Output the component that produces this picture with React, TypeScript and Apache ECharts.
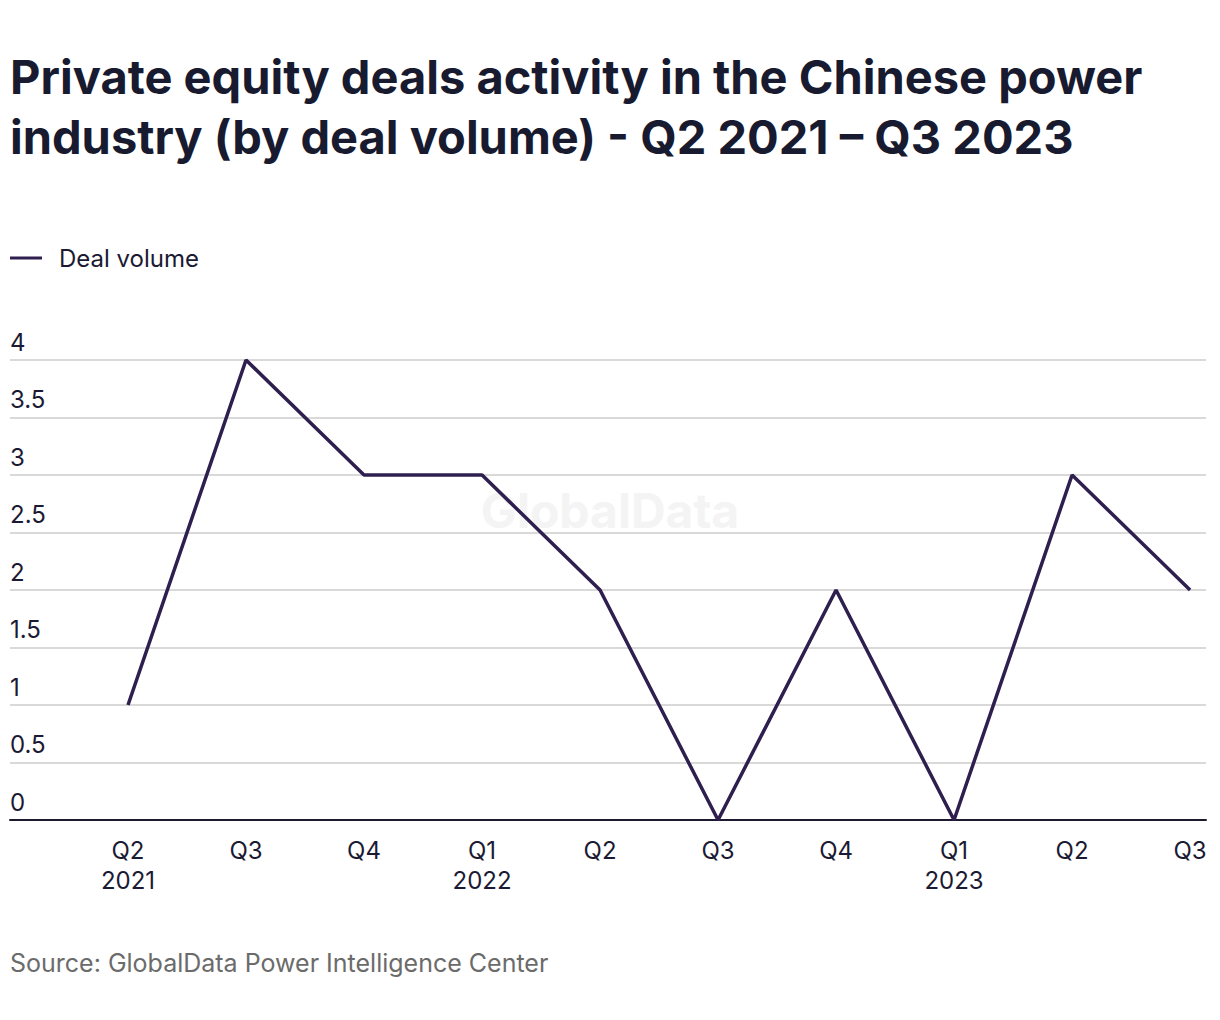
import React, { useEffect, useRef } from "react";
import * as echarts from "echarts";

const categories = ["Q2\n2021", "Q3", "Q4", "Q1\n2022", "Q2", "Q3", "Q4", "Q1\n2023", "Q2", "Q3"];
const dealVolume = [1, 4, 3, 3, 2, 0, 2, 0, 3, 2];
const titleText = "Private equity deals activity in the Chinese power\nindustry (by deal volume) - Q2 2021 \u2013 Q3 2023";
const sourceText = "Source: GlobalData Power Intelligence Center";

const FONT = "Inter, 'Noto Sans', sans-serif";

export default function App() {
  const ref = useRef<HTMLDivElement>(null);
  useEffect(() => {
    document.body.style.margin = "0";
    const chart = echarts.init(ref.current!, null, { renderer: "svg" });
    chart.setOption({
      animation: false,
      backgroundColor: "#ffffff",
      title: {
        text: titleText,
        left: 10,
        top: 46,
        padding: 0,
        textStyle: { fontFamily: FONT, fontSize: 47, fontWeight: 700, lineHeight: 60, color: "#181a2f" },
      },
      legend: {
        left: 10,
        top: 246,
        padding: 0,
        icon: "rect",
        itemWidth: 32,
        itemHeight: 3,
        textStyle: { fontFamily: FONT, fontSize: 24, color: "#1b1a33", padding: [0, 0, 0, 12] },
        data: [{ name: "Deal volume", itemStyle: { color: "#2e1f4f" } }],
      },
      grid: { left: 10, right: 14, top: 360, bottom: 200 },
      xAxis: {
        type: "value",
        min: -1,
        max: 9.135,
        interval: 1,
        splitLine: { show: false },
        axisTick: { show: false },
        axisLine: { show: true, lineStyle: { color: "#1b1a2e", width: 2 } },
        axisLabel: {
          fontFamily: FONT,
          fontSize: 24,
          lineHeight: 30,
          color: "#1b1a33",
          margin: 15,
          showMinLabel: true,
          showMaxLabel: true,
          formatter: (v: number) => (Number.isInteger(v) && v >= 0 && v < categories.length ? categories[v] : ""),
        },
      },
      yAxis: {
        type: "value",
        min: 0,
        max: 4,
        interval: 0.5,
        axisLine: { show: false },
        axisTick: { show: false },
        splitLine: { lineStyle: { color: "#d9d9d9", width: 2 } },
        axisLabel: {
          inside: true,
          margin: 0,
          verticalAlign: "bottom",
          padding: [0, 0, 6, 0],
          fontFamily: FONT,
          fontSize: 24,
          color: "#1b1a33",
        },
      },
      graphic: [
        {
          type: "text",
          left: "center",
          top: 486,
          z: 0,
          style: { text: "GlobalData", fontFamily: FONT, fontSize: 48, fontWeight: 700, fill: "#f4f4f4" },
        },
        {
          type: "text",
          left: 10,
          top: 950,
          style: { text: sourceText, fontFamily: FONT, fontSize: 25, fill: "#6b6b6b" },
        },
      ],
      series: [
        {
          name: "Deal volume",
          type: "line",
          data: dealVolume.map((v, i) => [i, v]),
          showSymbol: false,
          symbol: "none",
          lineStyle: { color: "#2e1f4f", width: 3.5 },
          itemStyle: { color: "#2e1f4f" },
          z: 3,
        },
      ],
    });
    return () => chart.dispose();
  }, []);
  return <div ref={ref} style={{ width: 1220, height: 1020 }} />;
}
